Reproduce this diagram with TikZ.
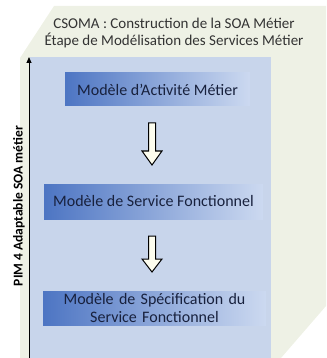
\documentclass[tikz,border=0pt]{standalone}
\usepackage{fontspec}
\setmainfont{Carlito}
\usetikzlibrary{arrows.meta}
\definecolor{bgbeige}{HTML}{EEF1E5}
\definecolor{panelblue}{HTML}{C8D5EB}
\definecolor{boxleft}{HTML}{4D75C3}
\definecolor{boxright}{HTML}{CCD9F0}
\definecolor{navytext}{HTML}{18213D}
\definecolor{titlegray}{HTML}{333333}
\definecolor{arrowfill}{HTML}{FDFDEE}
\tikzset{
  modelbox/.style={left color=boxleft, right color=boxright, draw=none,
    text=navytext, font=\fontsize{16}{18}\selectfont, align=center, inner sep=0pt},
  blockarrow/.style={draw=black, fill=arrowfill, line width=1pt, line join=miter},
}
\begin{document}
\begin{tikzpicture}[x=1pt,y=-1pt]
\useasboundingbox (0,0) rectangle (326,358);
% background cube shape
\fill[bgbeige] (20,358) -- (20,58) -- (54,6) -- (326,6) -- (326,306) -- (281,358) -- cycle;
% blue panel
\fill[panelblue] (30,57) rectangle (271,358);
% axis
\coordinate (axbot) at (29,358);
\coordinate (axtop) at (29,57);
\draw[line width=0.8pt, -{Triangle[length=6pt,width=5pt]}, color=black] (axbot) -- (axtop);
% title
\node[text=titlegray, font=\fontsize{15}{17}\selectfont, align=center] (title) at (174,33.5)
  {CSOMA : Construction de la SOA Métier\\Étape de Modélisation des Services Métier};
% vertical label
\node[rotate=90, font=\bfseries\fontsize{13.5}{15}\selectfont] (pim) at (19,206) {PIM 4 Adaptable SOA métier};
% boxes
\node[modelbox, minimum width=185, minimum height=33] (m1) at (157.5,89.5) {Modèle d'Activité Métier};
\node[modelbox, minimum width=219, minimum height=35] (m2) at (153.5,201.5) {Modèle de Service Fonctionnel};
\node[modelbox, minimum width=223, minimum height=34, text width=215] (m3) at (154.5,308) {Modèle de Spécification du\\Service Fonctionnel};
% block arrows
\coordinate (a1) at (152,123);
\coordinate (a2) at (152,236);
\draw[blockarrow] (a1) ++(-3.5,0) -- ++(0,28) -- ++(-6.5,0) -- ++(10,14) -- ++(10,-14) -- ++(-6.5,0) -- ++(0,-28) -- cycle;
\draw[blockarrow] (a2) ++(-3.5,0) -- ++(0,23) -- ++(-6.5,0) -- ++(10,13) -- ++(10,-13) -- ++(-6.5,0) -- ++(0,-23) -- cycle;
\end{tikzpicture}
\end{document}
